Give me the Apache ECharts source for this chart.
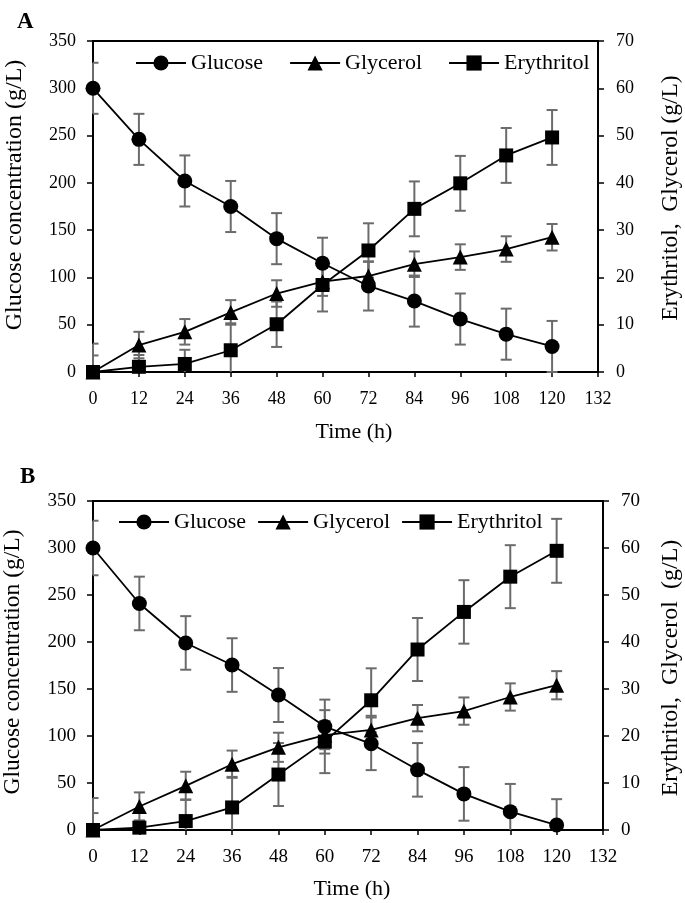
<!DOCTYPE html>
<html>
<head>
<meta charset="utf-8">
<script src="https://cdn.jsdelivr.net/npm/echarts@6/dist/echarts.min.js"></script>
<style>html,body{margin:0;padding:0;background:#fff;}#c{width:685px;height:903px;}</style>
</head>
<body>
<div id="c"></div>
<script>
// ---- data ----
const times = [0, 12, 24, 36, 48, 60, 72, 84, 96, 108, 120];
const xTicks = [0, 12, 24, 36, 48, 60, 72, 84, 96, 108, 120, 132];
const seriesNames = ['Glucose', 'Glycerol', 'Erythritol'];

// Panel A
const glucoseA = [300, 246, 202, 175, 141, 115, 91, 75, 56, 40, 27];
const glucoseAErr = [27, 27, 27, 27, 27, 27, 26, 27, 27, 27, 27];
const glycerolA = [0, 5.7, 8.5, 12.6, 16.6, 19.1, 20.3, 22.8, 24.3, 26.0, 28.5];
const glycerolAErr = [3.5, 2.8, 2.7, 2.6, 2.8, 3, 3, 2.7, 2.7, 2.7, 2.8];
const erythritolA = [0, 1.1, 1.7, 4.6, 10.1, 18.4, 25.7, 34.5, 39.9, 45.8, 49.6];
const erythritolAErr = [6, 2.5, 3, 5.7, 4.8, 5.6, 5.75, 5.8, 5.8, 5.8, 5.8];

// Panel B
const glucoseB = [300, 241, 199, 175.5, 143.6, 110, 91.7, 64, 38.4, 19.5, 5.3];
const glucoseBErr = [29, 28.5, 28.5, 28.5, 28.7, 28.7, 28, 28.5, 28.5, 29.5, 27.5];
const glycerolB = [0, 5.0, 9.4, 14.0, 17.6, 20.2, 21.3, 23.8, 25.3, 28.3, 30.8];
const glycerolBErr = [3.6, 3, 3, 2.9, 3.1, 3, 3, 2.8, 2.9, 2.9, 3];
const erythritolB = [0, 0.5, 1.9, 4.8, 11.8, 18.8, 27.6, 38.4, 46.4, 53.9, 59.4];
const erythritolBErr = [6.8, 1.5, 4.6, 6.5, 6.7, 6.7, 6.8, 6.7, 6.75, 6.7, 6.8];

// ---- chart ----
const FONT = 'Liberation Serif';
const chart = echarts.init(document.getElementById('c'), null, {renderer: 'canvas'});

function xAxisCfg(gi, fs) {
  return {
    gridIndex: gi, type: 'value', min: 0, max: 132, interval: 12,
    axisLine: {show: true, onZero: false, lineStyle: {color: '#000', width: 2}},
    axisTick: {show: true, inside: false, length: 5, lineStyle: {color: '#000', width: 1.5}},
    axisLabel: {margin: 18, color: '#000', fontFamily: FONT, fontSize: fs},
    splitLine: {show: false}
  };
}
function yAxisCfg(gi, pos, max, interval, fs) {
  return {
    gridIndex: gi, type: 'value', position: pos, min: 0, max: max, interval: interval,
    axisLine: {show: true, onZero: false, lineStyle: {color: '#000', width: 2}},
    axisTick: {show: true, inside: false, length: 6, lineStyle: {color: '#000', width: 1.5}},
    axisLabel: {margin: pos === 'left' ? 17 : 18, color: '#000', fontFamily: FONT, fontSize: fs},
    splitLine: {show: false}
  };
}
function lineSeries(name, xi, yi, vals, symbol, size) {
  return {
    name: name, type: 'line', xAxisIndex: xi, yAxisIndex: yi, z: 3,
    data: times.map((t, i) => [t, vals[i]]),
    symbol: symbol, symbolSize: size,
    itemStyle: {color: '#000'},
    lineStyle: {color: '#000', width: 1.8},
    emphasis: {disabled: true}
  };
}
function errSeries(name, xi, yi, vals, errs) {
  return {
    name: name, type: 'custom', xAxisIndex: xi, yAxisIndex: yi, z: 2, silent: true,
    data: times.map((t, i) => [t, vals[i], errs[i]]),
    encode: {x: 0, y: 1},
    renderItem: function (params, api) {
      const cs = params.coordSys;
      const x = api.value(0), v = api.value(1), e = api.value(2);
      const top = api.coord([x, v + e]);
      const bot = api.coord([x, v - e]);
      const yMin = cs.y, yMax = cs.y + cs.height, xMin = cs.x, xMax = cs.x + cs.width;
      const col = '#6b6b6b', hw = 5.5;
      const children = [];
      const y1 = Math.max(top[1], yMin), y2 = Math.min(bot[1], yMax);
      children.push({type: 'line', shape: {x1: top[0], y1: y1, x2: top[0], y2: y2}, style: {stroke: col, lineWidth: 2}});
      [top[1], bot[1]].forEach(function (yy) {
        if (yy >= yMin && yy <= yMax) {
          children.push({type: 'line', shape: {x1: Math.max(top[0] - hw, xMin), y1: yy, x2: Math.min(top[0] + hw, xMax), y2: yy}, style: {stroke: col, lineWidth: 2}});
        }
      });
      return {type: 'group', children: children};
    }
  };
}

const legendBase = {
  data: seriesNames, itemWidth: 50, itemHeight: 19, padding: 0,
  textStyle: {color: '#000', fontFamily: FONT, fontSize: 22, padding: [0, 0, 0, 0]},
  selectedMode: false
};

const option = {
  animation: false,
  backgroundColor: '#fff',
  title: [
    {text: 'A', left: 12, top: 6, textStyle: {fontFamily: FONT, fontWeight: 'bold', fontSize: 23, color: '#000'}},
    {text: 'B', left: 15, top: 461, textStyle: {fontFamily: FONT, fontWeight: 'bold', fontSize: 23, color: '#000'}}
  ],
  grid: [
    {left: 93, top: 41, width: 505, height: 331, show: true, borderColor: '#000', borderWidth: 2, backgroundColor: 'transparent'},
    {left: 93, top: 501, width: 510, height: 329, show: true, borderColor: '#000', borderWidth: 2, backgroundColor: 'transparent'}
  ],
  xAxis: [xAxisCfg(0, 18), xAxisCfg(1, 19)],
  yAxis: [
    yAxisCfg(0, 'left', 350, 50, 18),
    yAxisCfg(0, 'right', 70, 10, 18),
    yAxisCfg(1, 'left', 350, 50, 19),
    yAxisCfg(1, 'right', 70, 10, 19)
  ],
  legend: [
    Object.assign({}, legendBase, {left: 135, top: 52, itemGap: 26}),
    Object.assign({}, legendBase, {left: 118, top: 511, itemGap: 11})
  ],
  graphic: [
    {type: 'text', x: 15, y: 195, rotation: Math.PI / 2, style: {text: 'Glucose concentration (g/L)', font: '24px "Liberation Serif"', fill: '#000', align: 'center', verticalAlign: 'middle'}},
    {type: 'text', x: 671, y: 198, rotation: Math.PI / 2, style: {text: 'Erythritol,  Glycerol (g/L)', font: '23.5px "Liberation Serif"', fill: '#000', align: 'center', verticalAlign: 'middle'}},
    {type: 'text', x: 354, y: 432, style: {text: 'Time (h)', font: '22px "Liberation Serif"', fill: '#000', align: 'center', verticalAlign: 'middle'}},
    {type: 'text', x: 13, y: 662, rotation: Math.PI / 2, style: {text: 'Glucose concentration (g/L)', font: '23.5px "Liberation Serif"', fill: '#000', align: 'center', verticalAlign: 'middle'}},
    {type: 'text', x: 671, y: 668, rotation: Math.PI / 2, style: {text: 'Erythritol,  Glycerol  (g/L)', font: '24px "Liberation Serif"', fill: '#000', align: 'center', verticalAlign: 'middle'}},
    {type: 'text', x: 352, y: 889, style: {text: 'Time (h)', font: '22px "Liberation Serif"', fill: '#000', align: 'center', verticalAlign: 'middle'}}
  ],
  series: [
    lineSeries('Glucose', 0, 0, glucoseA, 'circle', 15),
    lineSeries('Glycerol', 0, 1, glycerolA, 'triangle', 15),
    lineSeries('Erythritol', 0, 1, erythritolA, 'rect', 14),
    errSeries('errGlucoseA', 0, 0, glucoseA, glucoseAErr),
    errSeries('errGlycerolA', 0, 1, glycerolA, glycerolAErr),
    errSeries('errErythritolA', 0, 1, erythritolA, erythritolAErr),
    lineSeries('Glucose', 1, 2, glucoseB, 'circle', 15),
    lineSeries('Glycerol', 1, 3, glycerolB, 'triangle', 15),
    lineSeries('Erythritol', 1, 3, erythritolB, 'rect', 14),
    errSeries('errGlucoseB', 1, 2, glucoseB, glucoseBErr),
    errSeries('errGlycerolB', 1, 3, glycerolB, glycerolBErr),
    errSeries('errErythritolB', 1, 3, erythritolB, erythritolBErr)
  ]
};
chart.setOption(option);
</script>
</body>
</html>
